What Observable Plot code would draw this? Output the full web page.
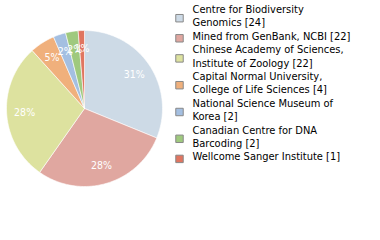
<!DOCTYPE html>
<html>
<head>
<meta charset="utf-8">
<script src="https://cdn.jsdelivr.net/npm/d3@7"></script>
<script src="https://cdn.jsdelivr.net/npm/@observablehq/plot@0.6"></script>
<style>
  html, body { margin: 0; padding: 0; background: #fff; }
  #chart svg { display: block; }
</style>
</head>
<body>
<div id="chart"></div>
<script>
// Data
const categories = [
  "Centre for Biodiversity Genomics",
  "Mined from GenBank, NCBI",
  "Chinese Academy of Sciences, Institute of Zoology",
  "Capital Normal University, College of Life Sciences",
  "National Science Museum of Korea",
  "Canadian Centre for DNA Barcoding",
  "Wellcome Sanger Institute"
];
const counts = [24, 22, 22, 4, 2, 2, 1];
const legendLabels = [
  ["Centre for Biodiversity", "Genomics [24]"],
  ["Mined from GenBank, NCBI [22]"],
  ["Chinese Academy of Sciences,", "Institute of Zoology [22]"],
  ["Capital Normal University,", "College of Life Sciences [4]"],
  ["National Science Museum of", "Korea [2]"],
  ["Canadian Centre for DNA", "Barcoding [2]"],
  ["Wellcome Sanger Institute [1]"]
];
const colors = ["#cddae6", "#e0a7a0", "#dde29f", "#f0b07c", "#a4bfe1", "#9fc97e", "#e07560"];

// Layout
const W = 380, H = 240;
const cx = 84, cy = 108, R = 78, labelR = 60;
const total = d3.sum(counts);
const arcs = d3.pie().sort(null).value(d => d)(counts);

// slice polygons (angles from d3.pie, clockwise from top)
const slicePts = [];
arcs.forEach((a, i) => {
  slicePts.push({i, x: cx, y: cy});
  const n = Math.max(2, Math.ceil((a.endAngle - a.startAngle) / 0.02));
  for (let k = 0; k <= n; k++) {
    const t = a.startAngle + (a.endAngle - a.startAngle) * k / n;
    slicePts.push({i, x: cx + R * Math.sin(t), y: cy - R * Math.cos(t)});
  }
  slicePts.push({i, x: cx, y: cy});
});
const pieLabels = arcs.map((a, i) => {
  const m = (a.startAngle + a.endAngle) / 2;
  return {i, x: cx + labelR * Math.sin(m), y: cy - labelR * Math.cos(m),
          text: Math.floor(counts[i] / total * 100) + "%"};
});

// legend layout
const lineH = 13.4, legTop = 9, swX = 179, txtX = 192;
const legLines = [], legSw = [];
let row = 0;
legendLabels.forEach((lines, i) => {
  const y0 = legTop + row * lineH;
  lines.forEach((t, j) => legLines.push({i, text: t, y: legTop + (row + j) * lineH}));
  const mid = y0 + (lines.length - 1) * lineH / 2 + 2;
  legSw.push({i, y: mid});
  row += lines.length;
});

const plot = Plot.plot({
  width: W, height: H,
  margin: 0,
  x: {domain: [0, W], range: [0, W], axis: null},
  y: {domain: [0, H], range: [0, H], axis: null},
  color: {domain: d3.range(colors.length), range: colors},
  style: {background: "#fff"},
  marks: [
    Plot.line(slicePts, {x: "x", y: "y", z: "i", fill: "i", stroke: "#fff", strokeWidth: 0.6, curve: "linear"}),
    Plot.text(pieLabels, {x: "x", y: "y", text: "text", fill: "#fff", fontSize: 10.5,
      fontFamily: "DejaVu Sans Condensed", style: {letterSpacing: "0.6px"}}),
    Plot.dot(legSw, {x: swX, y: "y", symbol: "square", r: 4.2, fill: "i", stroke: "#888", strokeWidth: 1}),
    Plot.text(legLines, {x: txtX, y: "y", text: "text", textAnchor: "start", fill: "#000",
      fontSize: 11, fontFamily: "DejaVu Sans Condensed"})
  ]
});
document.getElementById("chart").append(plot);
</script>
</body>
</html>
